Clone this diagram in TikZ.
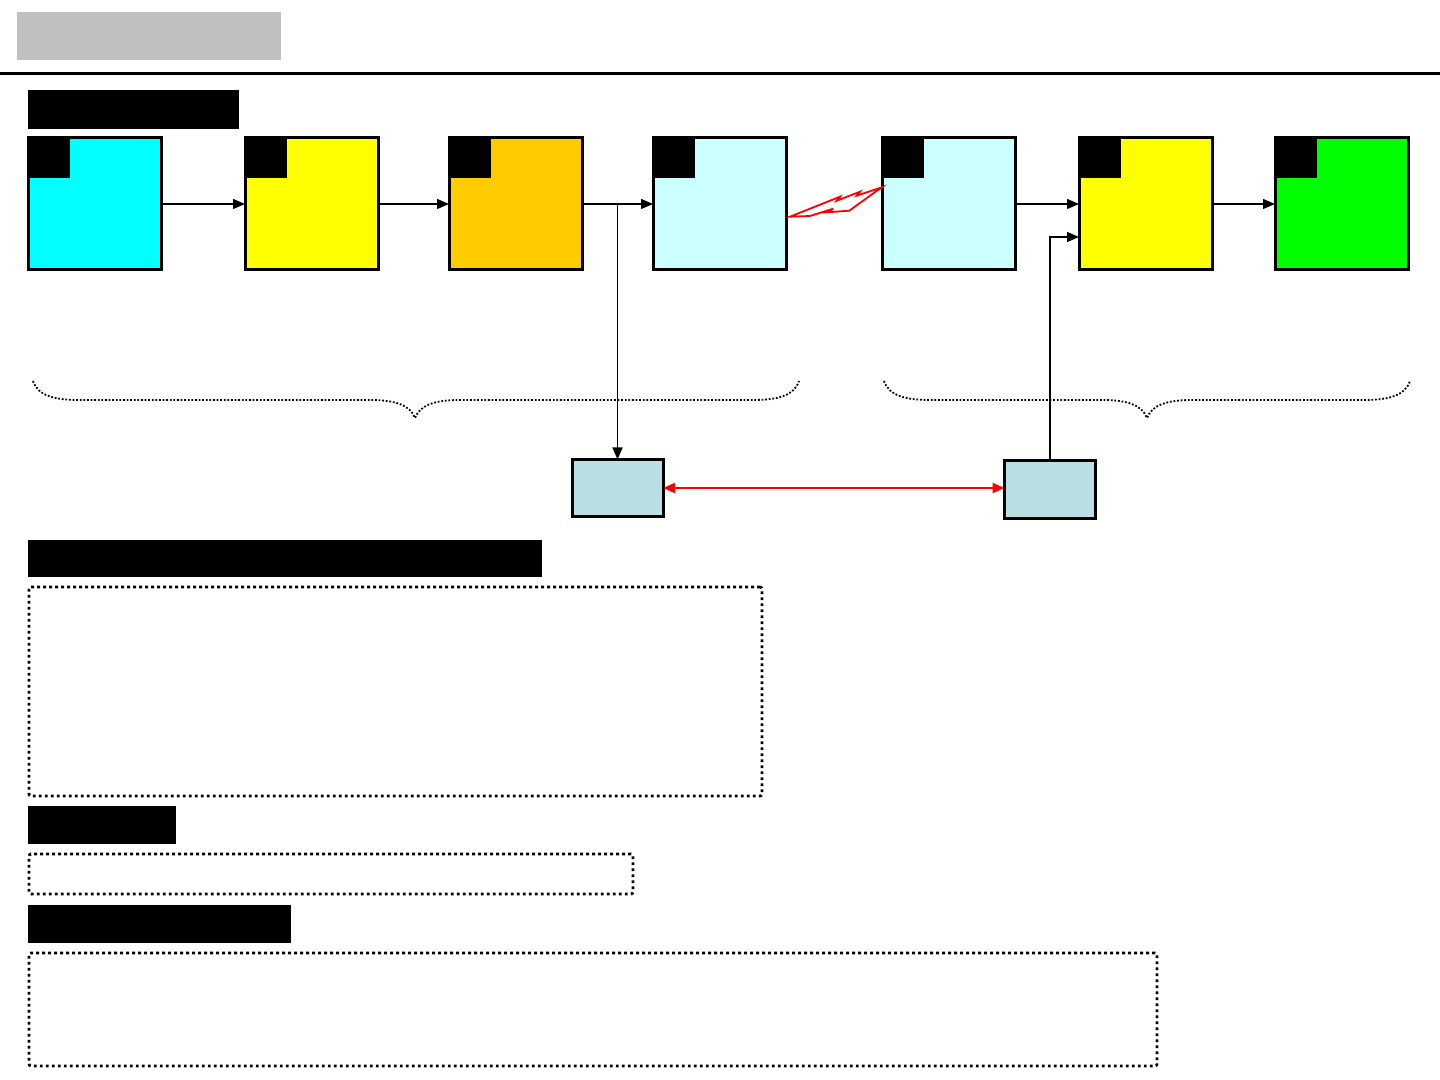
\documentclass[tikz,border=0pt]{standalone}
\usetikzlibrary{arrows.meta,calc}
\definecolor{cyanbox}{HTML}{00FFFF}
\definecolor{yellowbox}{HTML}{FFFF00}
\definecolor{orangebox}{HTML}{FFCC00}
\definecolor{paleblue}{HTML}{CCFFFF}
\definecolor{greenbox}{HTML}{00FF00}
\definecolor{grayhead}{HTML}{C0C0C0}
\definecolor{powder}{HTML}{B9DFE2}
\begin{document}
\begin{tikzpicture}[x=0.5pt,y=-0.5pt,
  stagebox/.style={draw=black,line width=1.5pt,inner sep=0pt,outer sep=0pt,minimum width=66.5pt,minimum height=66pt},
  cornerbox/.style={fill=black,inner sep=0pt,outer sep=0pt,minimum width=20.5pt,minimum height=19.5pt,anchor=north west},
  smallbox/.style={draw=black,line width=1.5pt,fill=powder,inner sep=0pt,outer sep=0pt,minimum width=45.5pt,minimum height=28.5pt},
  header/.style={fill=black,inner sep=0pt,outer sep=0pt,anchor=north west},
  dotbox/.style={draw=black,line width=1.4pt,dash pattern=on 1.4pt off 1.6pt,rounded corners=1pt,inner sep=0pt,outer sep=0pt,anchor=north west},
  arr/.style={line width=0.65pt,-{Triangle[length=6pt,width=5pt]}},
  brace/.style={line width=0.9pt,dash pattern=on 0.9pt off 0.9pt}]
\useasboundingbox (0,0) rectangle (1440,1080);
% title and rule
\node[fill=grayhead,inner sep=0pt,anchor=north west,minimum width=132pt,minimum height=24pt] (title) at (17,12) {};
\coordinate (ruleL) at (0,74);
\coordinate (ruleR) at (1440,74);
\draw[line width=1.5pt] (ruleL) -- (ruleR);
% headers
\node[header,minimum width=105.5pt,minimum height=19.5pt] (h1) at (28,90) {};
\node[header,minimum width=257pt,minimum height=18.5pt] (h2) at (28,540) {};
\node[header,minimum width=74pt,minimum height=19pt] (h3) at (28,806) {};
\node[header,minimum width=131.5pt,minimum height=19pt] (h4) at (28,905) {};
% stage boxes
\node[stagebox,fill=cyanbox] (b1) at (94.5,204) {};
\node[stagebox,fill=yellowbox] (b2) at (311.5,204) {};
\node[stagebox,fill=orangebox] (b3) at (515.5,204) {};
\node[stagebox,fill=paleblue] (b4) at (719.5,204) {};
\node[stagebox,fill=paleblue] (b5) at (948.5,204) {};
\node[stagebox,fill=yellowbox] (b6) at (1145.5,204) {};
\node[stagebox,fill=greenbox] (b7) at (1341.5,204) {};
\foreach \b in {b1,b2,b3,b4,b5,b6,b7}{
  \node[cornerbox] (c\b) at ($(\b.north west)+(0.75,0.75)$) {};
  \draw[line width=1.5pt] (\b.north west) rectangle (\b.south east);
}
% small boxes
\node[smallbox] (l1) at (617.5,488) {};
\node[smallbox] (l2) at (1050,489.5) {};
% arrows
\draw[arr] (b1.east) -- (b2.west);
\draw[arr] (b2.east) -- (b3.west);
\draw[arr] (b3.east) -- (b4.west);
\draw[arr] (b5.east) -- (b6.west);
\draw[arr] (b6.east) -- (b7.west);
\draw[arr] (b3.east -| l1.north) -- (l1.north);
\draw[arr] (l2.north) |- ($(b6.west)+(0,33)$);
\draw[red,line width=1pt,{Triangle[length=6pt,width=5pt]}-{Triangle[length=6pt,width=5pt]}] (l1.east) -- (l1.east -| l2.west);
% lightning
\draw[red,line width=0.9pt,line join=miter]
  (790,216.7) -- (840,196.7) -- (836.7,200.7) -- (860,191.7) -- (856.7,195.7) -- (881.7,187.3)
  -- (849.3,210.7) -- (826.7,212.3) -- (833.3,208.7) -- (810,216) -- cycle;
% braces
\draw[brace] (33,381) .. controls (38,396) and (55,400) .. (80,400) -- (370,400)
  .. controls (395,400) and (410,405) .. (415,418)
  .. controls (420,405) and (435,400) .. (460,400) -- (752,400)
  .. controls (777,400) and (794,396) .. (799,381);
\draw[brace] (884,381) .. controls (889,396) and (906,400) .. (931,400) -- (1102,400)
  .. controls (1127,400) and (1142,405) .. (1147,418)
  .. controls (1152,405) and (1167,400) .. (1192,400) -- (1363,400)
  .. controls (1388,400) and (1405,396) .. (1410,381);
% dotted boxes
\node[dotbox,minimum width=366.5pt,minimum height=104.5pt] (d1) at (29,587) {};
\node[dotbox,minimum width=302pt,minimum height=20pt] (d2) at (29,854) {};
\node[dotbox,minimum width=564pt,minimum height=56.5pt] (d3) at (29,953) {};
\end{tikzpicture}
\end{document}
